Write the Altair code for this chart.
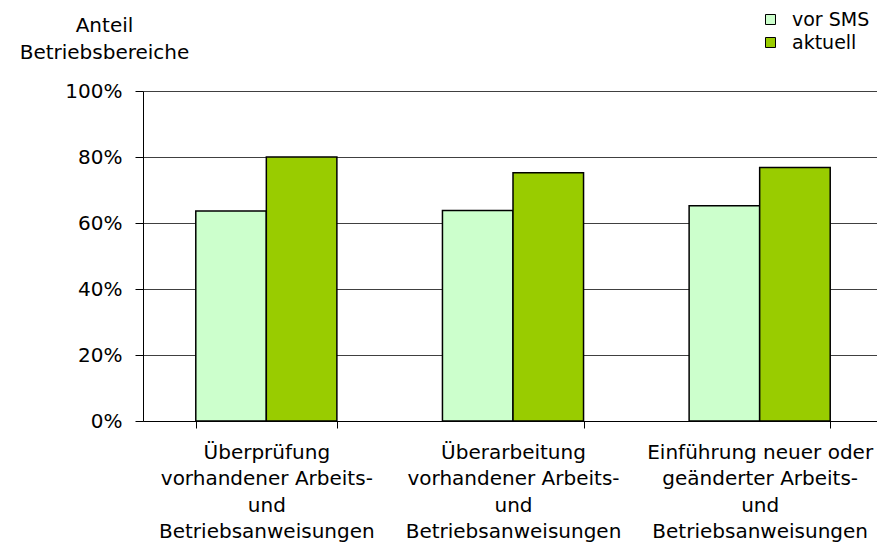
import altair as alt
import pandas as pd

categories = [
    ["Überprüfung", "vorhandener Arbeits-", "und", "Betriebsanweisungen"],
    ["Überarbeitung", "vorhandener Arbeits-", "und", "Betriebsanweisungen"],
    ["Einführung neuer oder", "geänderter Arbeits-", "und", "Betriebsanweisungen"],
]
series = ["vor SMS", "aktuell"]
vor_sms = [0.636, 0.638, 0.652]
aktuell = [0.800, 0.752, 0.768]
colors = ["#CCFFCC", "#99CC00"]
y_ticks = [0, 0.2, 0.4, 0.6, 0.8, 1.0]
y_title = ["Anteil", "Betriebsbereiche"]

cat_order = ["|".join(c) for c in categories]
rows = []
for label, v, a in zip(cat_order, vor_sms, aktuell):
    rows.append({"Kategorie": label, "Serie": series[0], "Wert": v})
    rows.append({"Kategorie": label, "Serie": series[1], "Wert": a})
df = pd.DataFrame(rows)

FONT = "DejaVu Sans"

chart = alt.Chart(df).mark_bar(stroke="black", strokeWidth=1.5).encode(
    x=alt.X(
        "Kategorie:N",
        sort=cat_order,
        scale=alt.Scale(paddingInner=0.428, paddingOuter=0.214, range=[0, 740]),
        axis=alt.Axis(
            title=None,
            labelExpr="split(datum.label, '|')",
            labelAngle=0,
            labelLimit=0,
            tickBand="extent",
            tickSize=7,
            labelPadding=30,
            labelBaseline="alphabetic",
            labelLineHeight=26.5,
            labelFontSize=20,
            labelFont=FONT,
            labelColor="black",
            domainColor="black",
            tickColor="black",
            grid=False,
        ),
    ),
    xOffset=alt.XOffset("Serie:N", sort=series, scale=alt.Scale(paddingInner=0, paddingOuter=0)),
    y=alt.Y(
        "Wert:Q",
        scale=alt.Scale(domain=[0, 1], nice=False),
        axis=alt.Axis(
            values=y_ticks,
            format=".0%",
            title=y_title,
            titleAngle=0,
            titleX=-39,
            titleY=-60,
            titleAlign="center",
            titleBaseline="alphabetic",
            titleLineHeight=27.6,
            titleFontSize=20,
            titleFont=FONT,
            titleFontWeight="normal",
            titleColor="black",
            labelFontSize=20,
            labelFont=FONT,
            labelColor="black",
            tickSize=8,
            tickColor="black",
            domainColor="black",
            labelPadding=13,
            gridColor="#404040",
            gridWidth=1,
        ),
    ),
    color=alt.Color(
        "Serie:N",
        sort=series,
        scale=alt.Scale(domain=series, range=colors),
        legend=alt.Legend(
            title=None,
            orient="none",
            legendX=618,
            legendY=-81,
            symbolType="square",
            symbolSize=100,
            symbolStrokeColor="black",
            symbolStrokeWidth=1,
            labelFontSize=19,
            labelFont=FONT,
            labelColor="black",
            labelOffset=12,
            rowPadding=3,
            padding=0,
        ),
    ),
).properties(
    width=734,
    height=330,
    padding={"left": 135, "top": 83, "right": 0, "bottom": 122},
    autosize=alt.AutoSizeParams(type="none"),
).configure_view(stroke=None)

chart.save("out.html", embed_options={"renderer": "svg", "actions": False})
